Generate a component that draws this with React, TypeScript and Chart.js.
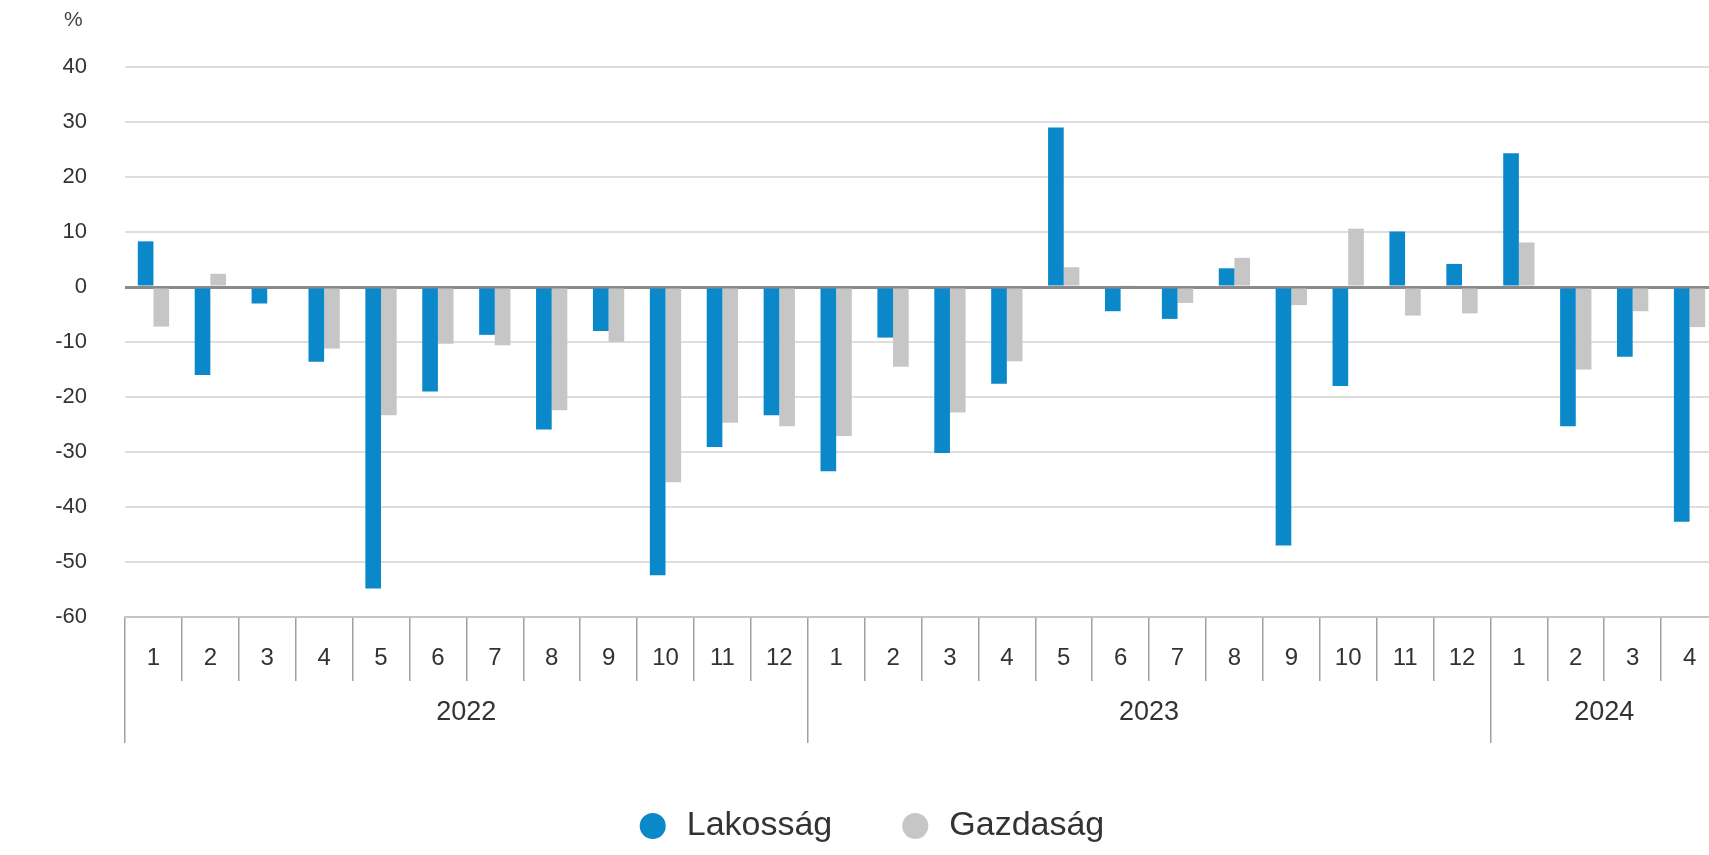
import React, { useEffect, useRef } from "react";
import { Chart, registerables } from "chart.js";

Chart.register(...registerables);

const months: string[] = [
  "1", "2", "3", "4", "5", "6", "7", "8", "9", "10", "11", "12",
  "1", "2", "3", "4", "5", "6", "7", "8", "9", "10", "11", "12",
  "1", "2", "3", "4",
];
const years: string[] = ["2022", "2023", "2024"];
const yearSpans: number[] = [12, 12, 4];

const lakossag: number[] = [
  8.3, -16, -3, -13.6, -54.8, -19, -8.7, -25.9, -8, -52.4, -29.1, -23.3,
  -33.5, -9.2, -30.2, -17.6, 29, -4.4, -5.8, 3.4, -47, -18, 10.1, 4.2,
  24.3, -25.3, -12.7, -42.7,
];
const gazdasag: number[] = [
  -7.2, 2.4, 0, -11.2, -23.3, -10.3, -10.6, -22.4, -10, -35.5, -24.7, -25.3,
  -27.1, -14.5, -22.8, -13.5, 3.6, 0.3, -2.9, 5.3, -3.3, 10.6, -5.2, -4.8,
  8.1, -15, -4.4, -7.3,
];
const seriesNames: string[] = ["Lakosság", "Gazdaság"];
const unitLabel = "%";
const yMin = -60;
const yMax = 40;
const yStep = 10;

const BLUE = "#0a88c9";
const GREY = "#c6c6c6";
const TEXT = "#333333";
const FONT = "'Liberation Sans', Arial, sans-serif";

export default function App() {
  const ref = useRef<HTMLCanvasElement | null>(null);

  useEffect(() => {
    if (!ref.current) return;

    const boundaries: number[] = [-0.5];
    const centres: { v: number; label: string }[] = [];
    let acc = -0.5;
    yearSpans.forEach((span, i) => {
      centres.push({ v: acc + span / 2, label: years[i] });
      acc += span;
      boundaries.push(acc);
    });
    const yearTickValues = [...boundaries, ...centres.map((c) => c.v)].sort((a, b) => a - b);
    const isBoundary = (v: number) => boundaries.some((b) => Math.abs(b - v) < 1e-6);

    const unitPlugin = {
      id: "unitLabel",
      afterDraw(chart: any) {
        const ctx = chart.ctx;
        ctx.save();
        ctx.font = `21px ${FONT}`;
        ctx.fillStyle = "#444";
        ctx.textAlign = "left";
        ctx.textBaseline = "middle";
        ctx.fillText(unitLabel, 64, 20);
        ctx.restore();
      },
    };

    const chart = new Chart(ref.current, {
      type: "bar",
      data: {
        labels: months,
        datasets: [
          {
            label: seriesNames[0],
            data: lakossag,
            backgroundColor: BLUE,
            borderWidth: 0,
            categoryPercentage: 0.55,
            barPercentage: 1,
            xAxisID: "x",
          },
          {
            label: seriesNames[1],
            data: gazdasag,
            backgroundColor: GREY,
            borderWidth: 0,
            categoryPercentage: 0.55,
            barPercentage: 1,
            xAxisID: "x",
          },
        ],
      },
      options: {
        responsive: false,
        animation: false,
        devicePixelRatio: 1,
        layout: { padding: { left: 22, right: 22, top: 67, bottom: 2 } },
        plugins: {
          tooltip: { enabled: false },
          legend: {
            position: "bottom",
            align: "center",
            labels: {
              usePointStyle: true,
              pointStyle: "circle",
              boxWidth: 34,
              boxHeight: 18.4,
              padding: 66,
              color: TEXT,
              font: { family: FONT, size: 34 },
            },
          },
        },
        scales: {
          x: {
            type: "category",
            position: "bottom",
            weight: 1,
            offset: true,
            grid: {
              offset: true,
              drawOnChartArea: false,
              drawTicks: true,
              tickLength: 64,
              color: "#a0a0a0",
              lineWidth: 1.5,
            },
            border: { display: true, color: "#c4c4c4", width: 2 },
            ticks: {
              autoSkip: false,
              maxRotation: 0,
              minRotation: 0,
              padding: -37.4,
              color: TEXT,
              font: { family: FONT, size: 24 },
            },
            afterFit: (scale: any) => {
              scale.height = 64;
            },
          },
          xYear: {
            type: "linear",
            position: "bottom",
            weight: 2,
            min: -0.5,
            max: months.length - 0.5,
            offset: false,
            afterBuildTicks: (scale: any) => {
              scale.ticks = yearTickValues.map((v) => ({ value: v }));
            },
            grid: {
              offset: false,
              drawOnChartArea: false,
              drawTicks: true,
              tickLength: 62,
              color: (ctx: any) => (ctx.tick && isBoundary(ctx.tick.value) ? "#a0a0a0" : "rgba(0,0,0,0)"),
              lineWidth: 1.5,
            },
            border: { display: false },
            ticks: {
              autoSkip: false,
              maxRotation: 0,
              minRotation: 0,
              padding: -46.2,
              color: TEXT,
              font: { family: FONT, size: 27 },
              callback: (value: any) => {
                const c = centres.find((cc) => Math.abs(cc.v - Number(value)) < 1e-6);
                return c ? c.label : "";
              },
            },
            afterFit: (scale: any) => {
              scale.height = 62;
            },
          },
          y: {
            type: "linear",
            min: yMin,
            max: yMax,
            ticks: {
              stepSize: yStep,
              padding: 38,
              color: TEXT,
              font: { family: FONT, size: 22 },
            },
            grid: {
              drawTicks: false,
              color: (ctx: any) => (ctx.tick && ctx.tick.value === 0 ? "#8a8a8a" : "#dedede"),
              lineWidth: (ctx: any) => (ctx.tick && ctx.tick.value === 0 ? 3 : 2),
            },
            border: { display: false },
            afterFit: (scale: any) => {
              scale.width = 103;
            },
          },
        },
      },
      plugins: [unitPlugin],
    } as any);

    return () => chart.destroy();
  }, []);

  return (
    <div
      style={{
        position: "fixed",
        left: 0,
        top: 0,
        width: "100vw",
        height: "100vh",
        overflow: "hidden",
        background: "#ffffff",
      }}
    >
      <canvas
        ref={ref}
        width={1740}
        height={855}
        style={{ display: "block", width: "1740px", height: "855px" }}
      />
    </div>
  );
}
